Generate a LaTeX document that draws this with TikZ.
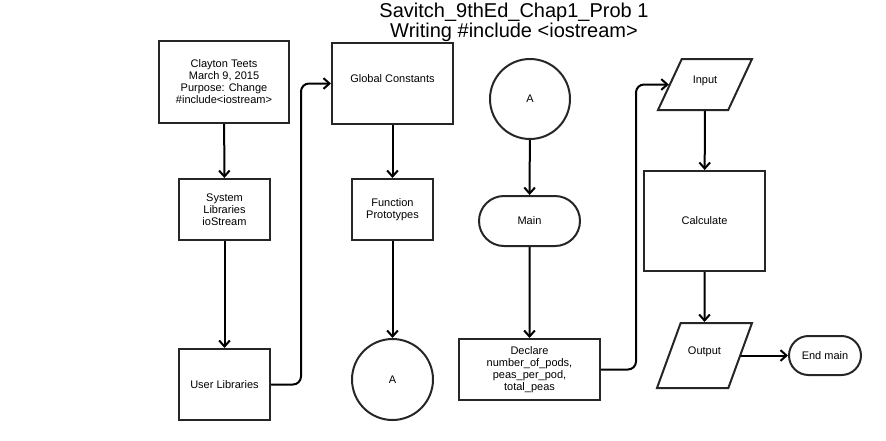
\documentclass[tikz,border=0pt]{standalone}
\usepackage{fontspec}
\setmainfont{Liberation Sans}
\usetikzlibrary{arrows.meta,shapes.geometric,shapes.misc}

\begin{document}
\begin{tikzpicture}[x=.75pt,y=-.75pt,
    box/.style={draw=black!85,line width=1.5pt,align=center,inner sep=0pt,
      font=\fontsize{8.25}{9}\selectfont},
    io/.style={box,trapezium,trapezium stretches body=true,text height=6pt,text depth=7.5pt},
    arr/.style={-{Straight Barb[length=4.5pt,width=8pt]},line width=1.5pt}]
    \useasboundingbox (0,0) rectangle (886,440);
    \node[align=center,font=\fontsize{15}{15}\selectfont] (title) at (514,22)
      {Savitch\_9thEd\_Chap1\_Prob 1\\Writing \#include <iostream>};
    \node[box,minimum width=97.5pt,minimum height=61.5pt] (clay) at (224,82)
      {Clayton Teets\\March 9, 2015\\Purpose: Change\\\#include<iostream>};
    \node[box,minimum width=68.25pt,minimum height=45.75pt] (sys) at (224.5,209.5)
      {System\\Libraries\\ioStream};
    \node[box,minimum width=68.25pt,minimum height=53.25pt] (user) at (224.5,384.5)
      {User Libraries};
    \node[box,minimum width=90.75pt,minimum height=60.75pt,text depth=7.5pt] (glob) at (392.5,83.5)
      {Global Constants};
    \node[box,minimum width=60.75pt,minimum height=45.75pt] (proto) at (392.5,209.5)
      {Function\\Prototypes};
    \node[box,circle,minimum size=60.75pt] (conB) at (392.5,379.5) {A};
    \node[box,circle,minimum size=60pt] (conA) at (530,99) {A};
    \node[box,rounded rectangle,minimum width=75.75pt,minimum height=37.5pt] (main) at (529.5,221)
      {Main};
    \node[box,minimum width=105.75pt,minimum height=45.75pt] (decl) at (529.5,369.5)
      {Declare\\number\_of\_pods,\\peas\_per\_pod,\\total\_peas};
    \node[io,trapezium left angle=65,trapezium right angle=115,
      inner ysep=12.375pt,minimum width=70.5pt] (inp) at (705,84.5) {Input};
    \node[box,minimum width=90.75pt,minimum height=75pt] (calc) at (704.5,221)
      {Calculate};
    \node[io,trapezium left angle=70,trapezium right angle=110,
      inner ysep=17.625pt,minimum width=71.25pt] (outp) at (704.5,355.5) {Output};
    \node[box,rounded rectangle,minimum width=54pt,minimum height=29.25pt] (endm) at (825,355.5)
      {End main};
    \foreach \a/\b in {clay/sys,sys/user,glob/proto,proto/conB,conA/main,main/decl,inp/calc,calc/outp,outp/endm}
      {\draw[arr] (\a) -- (\b);}
    \draw[arr,rounded corners=6pt] (user.east) -- ++(30,0) |- (glob.west);
    \draw[arr,rounded corners=6pt] (decl.east) -- ++(35,0) |- (inp.west);
  \end{tikzpicture}
\end{document}
